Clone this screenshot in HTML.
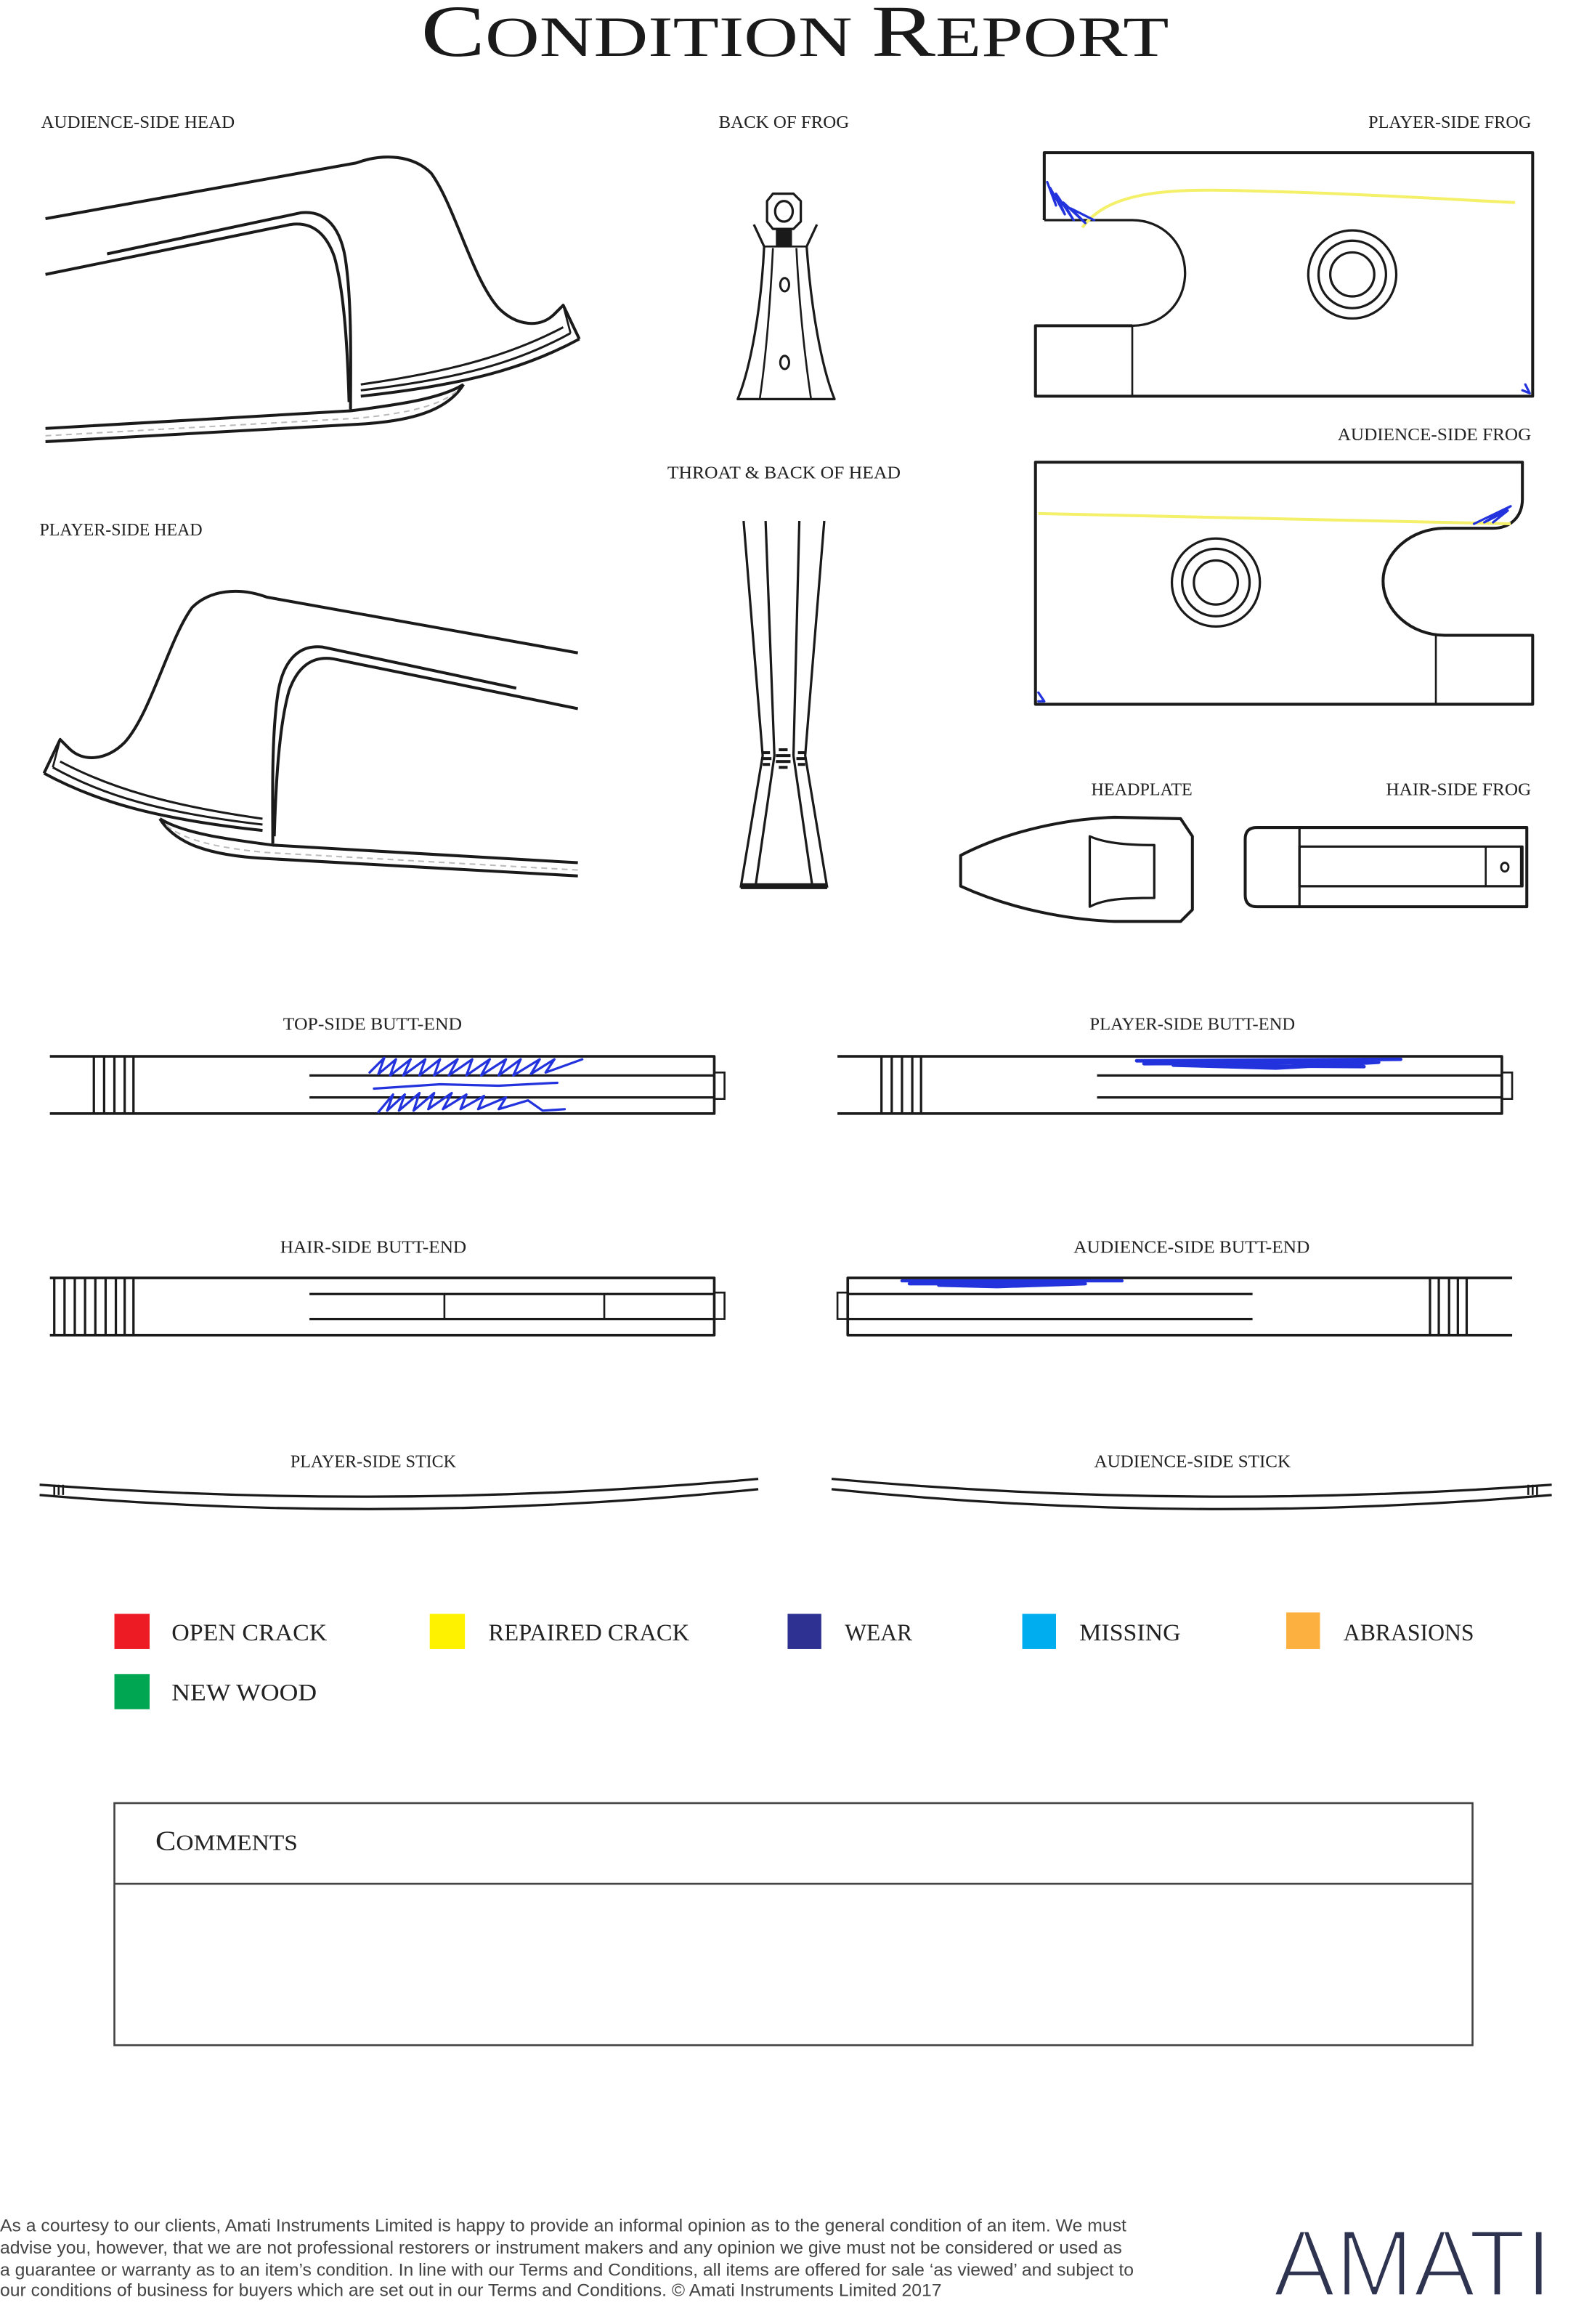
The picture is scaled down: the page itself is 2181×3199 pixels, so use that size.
<!DOCTYPE html>
<html><head><meta charset="utf-8"><style>
html,body{margin:0;padding:0;background:#fff;}
svg{display:block;}
.l{font-family:"Liberation Serif",serif;font-size:12px;fill:#222;}
.lg{font-family:"Liberation Serif",serif;font-size:16px;fill:#222;}
.o{fill:none;stroke:#1a1a1a;stroke-width:2;stroke-linejoin:round;stroke-linecap:butt;}
.t{fill:none;stroke:#1a1a1a;stroke-width:1.3;}
.b{fill:none;stroke:#2233dd;stroke-width:1.6;stroke-linecap:round;stroke-linejoin:round;}
</style></head><body>
<svg width="2181" height="3199" viewBox="0 0 1080 1584" xmlns="http://www.w3.org/2000/svg">
<rect width="1080" height="1584" fill="#fff"/>
<!-- Title -->
<text x="287" y="38" textLength="510" lengthAdjust="spacingAndGlyphs" font-family="Liberation Serif, serif" fill="#1a1a1a" stroke="#fff" stroke-width="0.6" paint-order="stroke"><tspan font-size="50">C</tspan><tspan font-size="39">ONDITION </tspan><tspan font-size="50">R</tspan><tspan font-size="39">EPORT</tspan></text>

<!-- Labels -->
<text class="l" x="28" y="87" textLength="132" lengthAdjust="spacingAndGlyphs">AUDIENCE-SIDE HEAD</text>
<text class="l" x="490" y="87" textLength="89" lengthAdjust="spacingAndGlyphs">BACK OF FROG</text>
<text class="l" x="933" y="87" textLength="111" lengthAdjust="spacingAndGlyphs">PLAYER-SIDE FROG</text>
<text class="l" x="912" y="300" textLength="132" lengthAdjust="spacingAndGlyphs">AUDIENCE-SIDE FROG</text>
<text class="l" x="455" y="326" textLength="159" lengthAdjust="spacingAndGlyphs">THROAT &amp; BACK OF HEAD</text>
<text class="l" x="27" y="365" textLength="111" lengthAdjust="spacingAndGlyphs">PLAYER-SIDE HEAD</text>
<text class="l" x="744" y="542" textLength="69" lengthAdjust="spacingAndGlyphs">HEADPLATE</text>
<text class="l" x="945" y="542" textLength="99" lengthAdjust="spacingAndGlyphs">HAIR-SIDE FROG</text>
<text class="l" x="193" y="702" textLength="122" lengthAdjust="spacingAndGlyphs">TOP-SIDE BUTT-END</text>
<text class="l" x="743" y="702" textLength="140" lengthAdjust="spacingAndGlyphs">PLAYER-SIDE BUTT-END</text>
<text class="l" x="191" y="854" textLength="127" lengthAdjust="spacingAndGlyphs">HAIR-SIDE BUTT-END</text>
<text class="l" x="732" y="854" textLength="161" lengthAdjust="spacingAndGlyphs">AUDIENCE-SIDE BUTT-END</text>
<text class="l" x="198" y="1000" textLength="113" lengthAdjust="spacingAndGlyphs">PLAYER-SIDE STICK</text>
<text class="l" x="746" y="1000" textLength="134" lengthAdjust="spacingAndGlyphs">AUDIENCE-SIDE STICK</text>

<!-- Audience-side head -->
<g id="head">
<path class="o" d="M31,149 L243,111 C262,104 282,106 294,118 C310,140 322,190 340,210 C352,222 368,224 378,214 L384,208 L395,231"/>
<path class="o" d="M395,231 C360,250 320,262 246,270"/>
<path class="o" d="M389,227 C355,246 315,258 246,266" style="stroke-width:1.5"/>
<path class="o" d="M384,223 C350,241 310,253 246,262" style="stroke-width:1.5"/>
<path class="t" d="M384,208 L389,227"/>
<path class="o" d="M73,173 L205,145 C222,143 233,155 236,180 C240,210 239,250 239,279"/>
<path class="o" d="M31,187 L198,153 C212,151 222,158 228,175 C235,200 237,240 238,274"/>
<path class="o" d="M31,292 L239,280 C270,276 300,272 316,262"/>
<path class="o" d="M31,301 L246,289 C280,287 305,280 316,262"/>
<path d="M31,297 L244,285 C275,282 300,277 312,266" fill="none" stroke="#bbb" stroke-width="1" stroke-dasharray="4,3"/>
</g>
<!-- Player-side head (mirror) -->
<use href="#head" transform="matrix(-1 0 0 1 425 296)"/>

<!-- Back of frog -->
<path class="o" d="M527,132 L541,132 L546,137 L546,151 L541,156 L527,156 L523,151 L523,137 Z" style="stroke-width:1.6"/>
<ellipse cx="534.5" cy="144" rx="6" ry="7" class="o" style="stroke-width:1.6"/>
<rect x="529" y="156" width="11" height="12" fill="#1a1a1a"/>
<path class="o" d="M514,153 L521,168 C519,210 512,250 503,272 L569,272 C560,250 553,210 550,168 L557,153" style="stroke-width:1.6"/>
<path class="t" d="M527,169 C525,210 522,245 518,272"/>
<path class="t" d="M543,169 C545,210 549,245 553,272"/>
<path class="t" d="M521,168 L550,168"/>
<ellipse cx="535" cy="194" rx="3" ry="4.5" class="o" style="stroke-width:1.5"/>
<ellipse cx="535" cy="247" rx="3" ry="4.5" class="o" style="stroke-width:1.5"/>

<!-- Throat & back of head -->
<path class="o" d="M507,355 L520,515 L505,605" style="stroke-width:1.6"/>
<path class="o" d="M522,355 L528,515 L515,605" style="stroke-width:1.6"/>
<path class="o" d="M562,355 L549,515 L564,605" style="stroke-width:1.6"/>
<path class="o" d="M545,355 L541,515 L554,605" style="stroke-width:1.6"/>
<rect x="505" y="602" width="59" height="4" fill="#1a1a1a"/>
<g fill="#1a1a1a">
<rect x="520" y="512" width="5" height="2"/><rect x="519" y="516" width="7" height="2"/><rect x="520" y="520" width="5" height="2"/>
<rect x="531" y="510" width="6" height="2"/><rect x="529" y="514" width="10" height="2"/><rect x="529" y="518" width="10" height="2"/><rect x="531" y="522" width="6" height="2"/>
<rect x="544" y="512" width="5" height="2"/><rect x="543" y="516" width="7" height="2"/><rect x="544" y="520" width="5" height="2"/>
</g>

<!-- Player-side frog -->
<path class="o" d="M712,150 L712,104 L1045,104 L1045,270 L706,270 L706,222 L772,222"/>
<path class="o" d="M712,150 L772,150 C792,150 808,165 808,186 C808,207 792,222 772,222" style="stroke-width:1.6"/>
<path class="t" d="M772,222 L772,270"/>
<circle cx="922" cy="187" r="30" class="o" style="stroke-width:1.6"/>
<circle cx="922" cy="187" r="23" class="o" style="stroke-width:1.6"/>
<circle cx="922" cy="187" r="15" class="o" style="stroke-width:1.6"/>
<path d="M738,155 C755,132 790,128 850,130 C930,132 990,136 1033,138" fill="none" stroke="#f4f06a" stroke-width="2"/>
<path class="b" d="M714,124 L720,140 L716,128 L726,146 L720,132 L732,150 L725,138 L740,152 L730,142 L746,150"/>
<path class="b" d="M1040,262 L1043,268 L1038,266"/>

<!-- Audience-side frog -->
<path class="o" d="M706,315 L1038,315 L1038,340 C1038,352 1030,360 1018,360 L985,360 C962,360 943,377 943,396 C943,416 962,433 985,433 L1045,433 L1045,480 L706,480 Z"/>
<path class="t" d="M979,433 L979,480"/>
<circle cx="829" cy="397" r="30" class="o" style="stroke-width:1.6"/>
<circle cx="829" cy="397" r="23" class="o" style="stroke-width:1.6"/>
<circle cx="829" cy="397" r="15" class="o" style="stroke-width:1.6"/>
<path d="M708,350 C800,352 900,355 1030,357" fill="none" stroke="#f4f06a" stroke-width="2"/>
<path class="b" d="M1005,357 L1030,345 L1012,356 L1028,348 L1018,356"/>
<path class="b" d="M708,472 L712,478 L708,478"/>

<!-- Headplate -->
<path class="o" d="M655,583 C690,565 730,558 760,557 L805,558 L813,570 L813,620 L805,628 L760,628 C730,627 690,620 655,604 Z"/>
<path class="o" d="M743,570 C752,574 765,576 787,576 L787,612 C765,612 752,613 743,618 Z" style="stroke-width:1.6"/>

<!-- Hair-side frog -->
<path class="o" d="M857,564 L1041,564 L1041,618 L857,618 Q849,618 849,610 L849,572 Q849,564 857,564 Z"/>
<path class="t" d="M886,564 L886,618" style="stroke-width:1.6"/>
<rect x="886" y="577" width="152" height="27" class="o" style="stroke-width:1.6"/>
<path class="t" d="M1013,577 L1013,604 M1037,577 L1037,604"/>
<ellipse cx="1026" cy="591" rx="2.5" ry="3" class="o" style="stroke-width:1.4"/>

<!-- Top-side butt-end -->
<g>
<path class="o" d="M34,720 L487,720 L487,759 L34,759" style="stroke-width:1.8"/>
<rect x="487" y="731" width="7" height="18" class="t"/>
<path class="o" d="M64,720 V759 M71,720 V759 M78,720 V759 M85,720 V759 M91,720 V759" style="stroke-width:1.6"/>
<path class="o" d="M211,733 L487,733 M211,748 L487,748" style="stroke-width:1.6"/>
</g>
<path class="b" d="M252,731 L262,721 L258,732 L270,722 L266,733 L280,722 L275,733 L290,722 L286,733 L300,722 L296,733 L312,722 L306,733 L322,722 L318,733 L334,722 L328,733 L345,722 L340,733 L355,722 L350,733 L368,722 L362,732 L378,722 L372,731 L397,722"/>
<path class="b" d="M258,758 L268,746 L264,757 L276,746 L272,757 L286,745 L282,757 L296,745 L292,756 L308,745 L302,756 L318,746 L314,756 L330,747 L326,756 L345,748 L340,756 L360,750 L370,757 L385,756"/>
<path class="b" d="M255,742 L300,739 L340,740 L380,738"/>

<!-- Player-side butt-end -->
<g>
<path class="o" d="M571,720 L1024,720 L1024,759 L571,759" style="stroke-width:1.8"/>
<rect x="1024" y="731" width="7" height="18" class="t"/>
<path class="o" d="M601,720 V759 M608,720 V759 M615,720 V759 M622,720 V759 M628,720 V759" style="stroke-width:1.6"/>
<path class="o" d="M748,733 L1024,733 M748,748 L1024,748" style="stroke-width:1.6"/>
</g>
<path class="b" d="M775,723 L955,722 M780,725 L940,724 L870,728 L800,726 L930,727" style="stroke-width:2.4"/>

<!-- Hair-side butt-end -->
<g>
<path class="o" d="M34,871 L487,871 L487,910 L34,910" style="stroke-width:1.8"/>
<rect x="487" y="881" width="7" height="18" class="t"/>
<path class="o" d="M37,871 V910 M44,871 V910 M51,871 V910 M58,871 V910 M65,871 V910 M72,871 V910 M79,871 V910 M85,871 V910 M91,871 V910" style="stroke-width:1.6"/>
<path class="o" d="M211,882 L487,882 M211,899 L487,899" style="stroke-width:1.6"/>
<path class="t" d="M303,882 V899 M412,882 V899"/>
</g>

<!-- Audience-side butt-end -->
<g>
<path class="o" d="M1031,871 L578,871 L578,910 L1031,910" style="stroke-width:1.8"/>
<rect x="571" y="881" width="7" height="18" class="t"/>
<path class="o" d="M975,871 V910 M981,871 V910 M988,871 V910 M994,871 V910 M1000,871 V910" style="stroke-width:1.6"/>
<path class="o" d="M578,882 L854,882 M578,899 L854,899" style="stroke-width:1.6"/>
</g>
<path class="b" d="M615,873 L765,873 M620,875 L740,875 L680,877 L640,876" style="stroke-width:2.2"/>

<!-- Sticks -->
<path class="o" d="M27,1012 Q272,1030 517,1008" style="stroke-width:1.6"/>
<path class="o" d="M27,1019 Q272,1040 517,1015" style="stroke-width:1.6"/>
<path class="t" d="M37,1012 V1019 M40,1012 V1019 M43,1012 V1019"/>
<path class="o" d="M567,1008 Q812,1030 1058,1012" style="stroke-width:1.6"/>
<path class="o" d="M567,1015 Q812,1040 1058,1019" style="stroke-width:1.6"/>
<path class="t" d="M1042,1012 V1019 M1045,1012 V1019 M1048,1012 V1019"/>

<!-- Legend -->
<rect x="78" y="1100" width="24" height="24" fill="#ed1c24"/>
<text class="lg" x="117" y="1118" textLength="106" lengthAdjust="spacingAndGlyphs">OPEN CRACK</text>
<rect x="293" y="1100" width="24" height="24" fill="#fff200"/>
<text class="lg" x="333" y="1118" textLength="137" lengthAdjust="spacingAndGlyphs">REPAIRED CRACK</text>
<rect x="537" y="1100" width="23" height="24" fill="#2e3192"/>
<text class="lg" x="576" y="1118" textLength="46" lengthAdjust="spacingAndGlyphs">WEAR</text>
<rect x="697" y="1100" width="23" height="24" fill="#00aeef"/>
<text class="lg" x="736" y="1118" textLength="69" lengthAdjust="spacingAndGlyphs">MISSING</text>
<rect x="877" y="1099" width="23" height="25" fill="#fbb040"/>
<text class="lg" x="916" y="1118" textLength="89" lengthAdjust="spacingAndGlyphs">ABRASIONS</text>
<rect x="78" y="1141" width="24" height="24" fill="#00a651"/>
<text class="lg" x="117" y="1159" textLength="99" lengthAdjust="spacingAndGlyphs">NEW WOOD</text>

<!-- Comments -->
<rect x="78" y="1229" width="926" height="165" fill="none" stroke="#444" stroke-width="1.3"/>
<line x1="78" y1="1284" x2="1004" y2="1284" stroke="#444" stroke-width="1.3"/>
<text x="106" y="1261" textLength="97" lengthAdjust="spacingAndGlyphs" font-family="Liberation Serif, serif" fill="#222"><tspan font-size="19">C</tspan><tspan font-size="15">OMMENTS</tspan></text>

<!-- Footer -->
<g font-family="Liberation Sans, sans-serif" font-size="12" fill="#444">
<text x="0" y="1521" textLength="768" lengthAdjust="spacingAndGlyphs">As a courtesy to our clients, Amati Instruments Limited is happy to provide an informal opinion as to the general condition of an item. We must</text>
<text x="0" y="1536" textLength="765" lengthAdjust="spacingAndGlyphs">advise you, however, that we are not professional restorers or instrument makers and any opinion we give must not be considered or used as</text>
<text x="0" y="1551" textLength="773" lengthAdjust="spacingAndGlyphs">a guarantee or warranty as to an item’s condition. In line with our Terms and Conditions, all items are offered for sale ‘as viewed’ and subject to</text>
<text x="0" y="1565" textLength="642" lengthAdjust="spacingAndGlyphs">our conditions of business for buyers which are set out in our Terms and Conditions. © Amati Instruments Limited 2017</text>
</g>
<text x="868" y="1565" textLength="190" lengthAdjust="spacingAndGlyphs" font-family="Liberation Sans, sans-serif" font-size="65" fill="#2e3350" stroke="#fff" stroke-width="2.2" paint-order="stroke" style="paint-order:normal">AMATI</text>
</svg>
</body></html>
